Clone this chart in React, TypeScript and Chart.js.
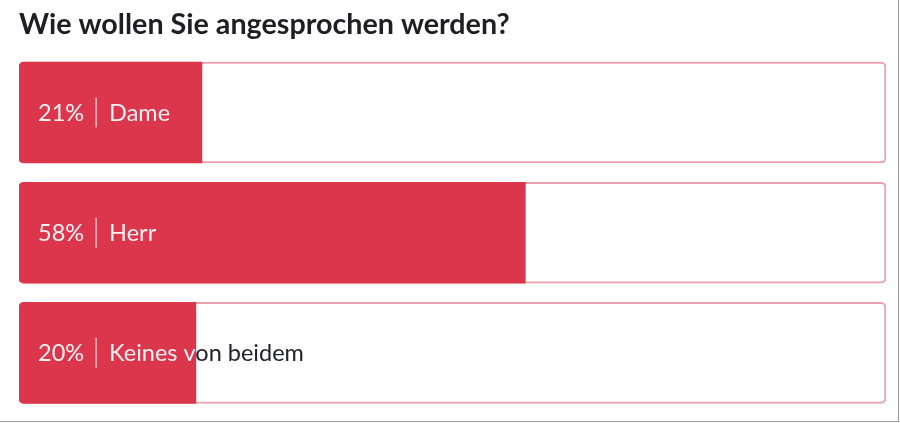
import React, { useEffect, useRef } from "react";
import { Chart, registerables } from "chart.js";

Chart.register(...registerables);

const titleText = "Wie wollen Sie angesprochen werden?";
const categories = ["Dame", "Herr", "Keines von beidem"];
const percentages = [21.1, 58.4, 20.4];
const maxValues = [100, 100, 100];

const RED = "rgb(219,54,76)";
const BOX_BORDER = "rgb(234,160,174)";

const labelPlugin = {
  id: "barLabels",
  afterDatasetsDraw(chart: any) {
    const ctx = chart.ctx;
    const redMeta = chart.getDatasetMeta(0);
    const boxMeta = chart.getDatasetMeta(1);
    ctx.save();
    ctx.font = "23.5px Lato";
    ctx.textBaseline = "middle";
    redMeta.data.forEach((bar: any, i: number) => {
      const box = boxMeta.data[i];
      const left = bar.base;
      const right = box.x;
      const end = bar.x;
      const top = bar.y - bar.height / 2;
      const h = bar.height;
      const pct = Math.round(percentages[i]) + "%";
      const x0 = left + 19;
      const pw = ctx.measureText(pct).width;
      const divX = x0 + pw + 12;
      const lx = divX + 13;
      const drawAll = (color: string) => {
        ctx.fillStyle = color;
        ctx.strokeStyle = color;
        ctx.fillText(pct, x0, bar.y + 1);
        ctx.beginPath();
        ctx.lineWidth = 1;
        ctx.moveTo(divX, bar.y - 15);
        ctx.lineTo(divX, bar.y + 15);
        ctx.stroke();
        ctx.fillText(categories[i], lx, bar.y + 1);
      };
      ctx.save();
      ctx.beginPath();
      ctx.rect(left, top, end - left, h);
      ctx.clip();
      drawAll("rgba(255,240,242,1)");
      ctx.restore();
      ctx.save();
      ctx.beginPath();
      ctx.rect(end, top, right - end, h);
      ctx.clip();
      drawAll("rgb(34,34,44)");
      ctx.restore();
    });
    ctx.restore();
  },
};

export default function App() {
  const ref = useRef<HTMLCanvasElement | null>(null);
  useEffect(() => {
    if (!ref.current) return;
    const chart = new Chart(ref.current, {
      type: "bar",
      data: {
        labels: categories,
        datasets: [
          {
            data: percentages,
            backgroundColor: RED,
            borderWidth: 0,
            borderSkipped: false,
            borderRadius: { topLeft: 5, bottomLeft: 5, topRight: 0, bottomRight: 0 },
            grouped: false,
            barThickness: 101,
            order: 0,
          } as any,
          {
            data: maxValues,
            backgroundColor: "#ffffff",
            borderColor: BOX_BORDER,
            borderWidth: 2,
            borderSkipped: false,
            borderRadius: 5,
            grouped: false,
            barThickness: 101,
            order: 1,
          } as any,
        ],
      },
      options: {
        indexAxis: "y",
        responsive: false,
        animation: false,
        layout: { padding: { left: 19, right: 12, top: 0, bottom: 8 } },
        scales: {
          x: { min: 0, max: 100, display: false },
          y: { display: false },
        },
        plugins: {
          legend: { display: false },
          tooltip: { enabled: false },
          title: {
            display: true,
            text: titleText,
            align: "start",
            color: "rgb(30,30,36)",
            font: { family: "Lato", size: 28.7, weight: "bold", lineHeight: 1.2 },
            padding: { top: 8, bottom: 10 },
          },
        },
      },
      plugins: [labelPlugin],
    });
    return () => chart.destroy();
  }, []);
  return (
    <div
      style={{
        position: "fixed",
        left: 0,
        top: 0,
        width: 899,
        height: 422,
        boxSizing: "border-box",
        borderRight: "1px solid #9a9a9a",
        borderBottom: "1px solid #9a9a9a",
        background: "#fff",
      }}
    >
      <canvas ref={ref} width={898} height={421} style={{ display: "block" }} />
    </div>
  );
}
